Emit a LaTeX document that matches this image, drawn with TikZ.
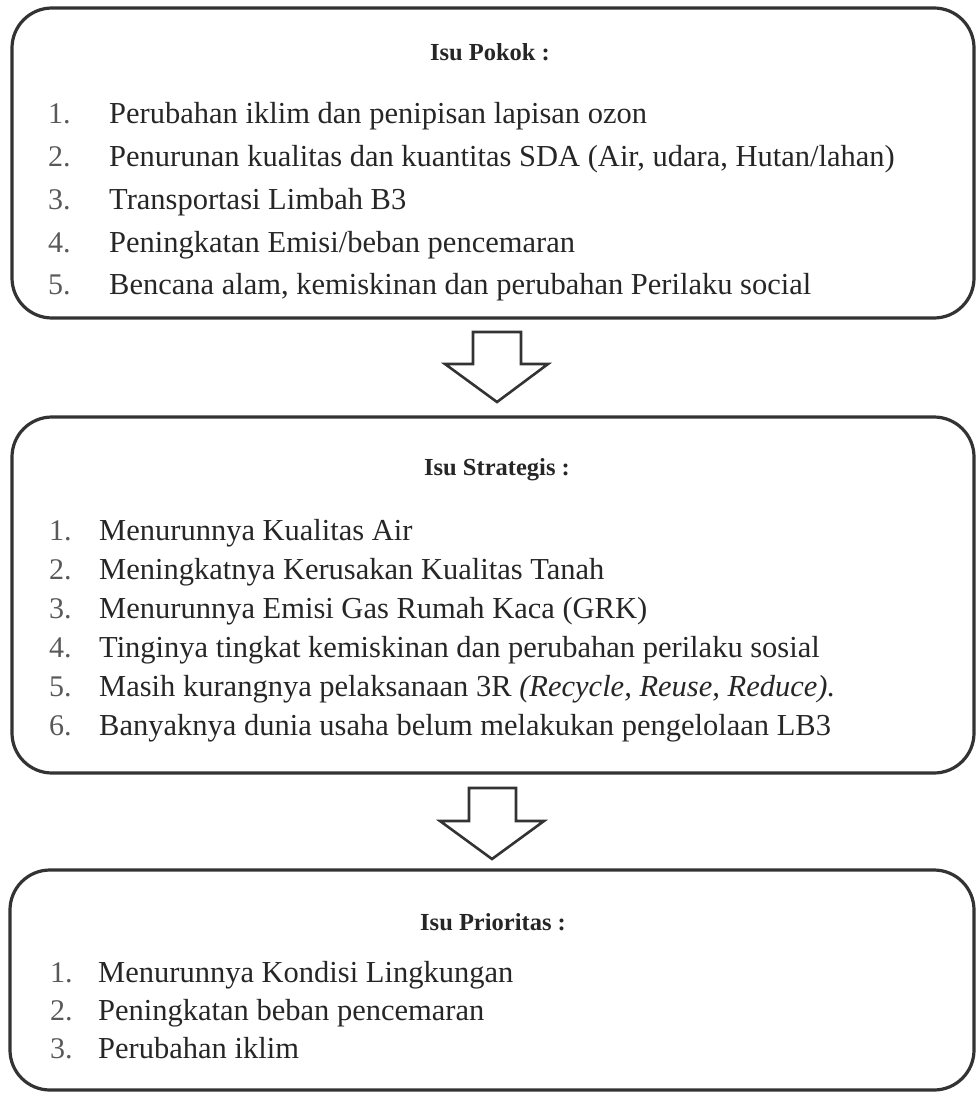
\documentclass[tikz,border=0pt]{standalone}
\usepackage{fontspec}
\setmainfont{Liberation Serif}
\usetikzlibrary{calc}
\begin{document}
\begin{tikzpicture}[x=1pt,y=-1pt,
  boxstyle/.style={draw=black!80,line width=3.2pt,rounded corners=40pt},
  arrowstyle/.style={draw=black!80,line width=2.6pt,fill=white,line join=miter},
  title/.style={font=\fontsize{24.5}{28}\selectfont\bfseries,text=black!85,inner sep=0pt},
  num/.style={anchor=west,font=\fontsize{30}{34}\selectfont,text=black!65,inner sep=0pt,text height=21pt,text depth=7pt},
  item/.style={anchor=west,font=\fontsize{30.5}{34}\selectfont,text=black!85,inner sep=0pt,text height=21pt,text depth=7pt}]
\useasboundingbox (0,0) rectangle (976,1094);
% boxes
\draw[boxstyle] (12,8) rectangle (974,318);
\coordinate (b1s) at (497,318);
\draw[boxstyle] (12,417) rectangle (974,773);
\coordinate (b2n) at (497,417);
\coordinate (b2s) at (492,773);
\draw[boxstyle] (10,870) rectangle (974,1090);
\coordinate (b3n) at (492,870);
% arrows (y axis points down: positive offset in y means lower)
\draw[arrowstyle] ($(b1s)+(-24,14)$) -- ($(b1s)+(24,14)$) -- ($(b1s)+(24,46)$)
  -- ($(b1s)+(51,46)$) -- ($(b2n)+(0,-15)$) -- ($(b1s)+(-52,46)$)
  -- ($(b1s)+(-24,46)$) -- cycle;
\draw[arrowstyle] ($(b2s)+(-23,15)$) -- ($(b2s)+(24,15)$) -- ($(b2s)+(24,48)$)
  -- ($(b2s)+(52,48)$) -- ($(b3n)+(0,-11)$) -- ($(b2s)+(-52,48)$)
  -- ($(b2s)+(-23,48)$) -- cycle;
% box 1
\node[title] (t1) at (490,52) {Isu Pokok :};
\node[num] (n11) at (48,117) {1.};
\node[item] (i11) at (109,117) {Perubahan iklim dan penipisan lapisan ozon};
\node[num] (n12) at (48,160) {2.};
\node[item] (i12) at (109,160) {Penurunan kualitas dan kuantitas SDA (Air, udara, Hutan/lahan)};
\node[num] (n13) at (48,202) {3.};
\node[item] (i13) at (109,202) {Transportasi Limbah B3};
\node[num] (n14) at (48,245) {4.};
\node[item] (i14) at (109,245) {Peningkatan Emisi/beban pencemaran};
\node[num] (n15) at (48,287) {5.};
\node[item] (i15) at (109,287) {Bencana alam, kemiskinan dan perubahan Perilaku social};
% box 2
\node[title] (t2) at (497,470) {Isu Strategis :};
\node[num] (n21) at (49,533) {1.};
\node[item] (i21) at (99,533) {Menurunnya Kualitas Air};
\node[num] (n22) at (49,572) {2.};
\node[item] (i22) at (99,572) {Meningkatnya Kerusakan Kualitas Tanah};
\node[num] (n23) at (49,611) {3.};
\node[item] (i23) at (99,611) {Menurunnya Emisi Gas Rumah Kaca (GRK)};
\node[num] (n24) at (49,650) {4.};
\node[item] (i24) at (99,650) {Tinginya tingkat kemiskinan dan perubahan perilaku sosial};
\node[num] (n25) at (49,689) {5.};
\node[item] (i25) at (99,689) {Masih kurangnya pelaksanaan 3R \textit{(Recycle, Reuse, Reduce).}};
\node[num] (n26) at (49,728) {6.};
\node[item] (i26) at (99,728) {Banyaknya dunia usaha belum melakukan pengelolaan LB3};
% box 3
\node[title] (t3) at (493,922) {Isu Prioritas :};
\node[num] (n31) at (50,975) {1.};
\node[item] (i31) at (98,975) {Menurunnya Kondisi Lingkungan};
\node[num] (n32) at (50,1013) {2.};
\node[item] (i32) at (98,1013) {Peningkatan beban pencemaran};
\node[num] (n33) at (50,1051) {3.};
\node[item] (i33) at (98,1051) {Perubahan iklim};
\end{tikzpicture}
\end{document}
